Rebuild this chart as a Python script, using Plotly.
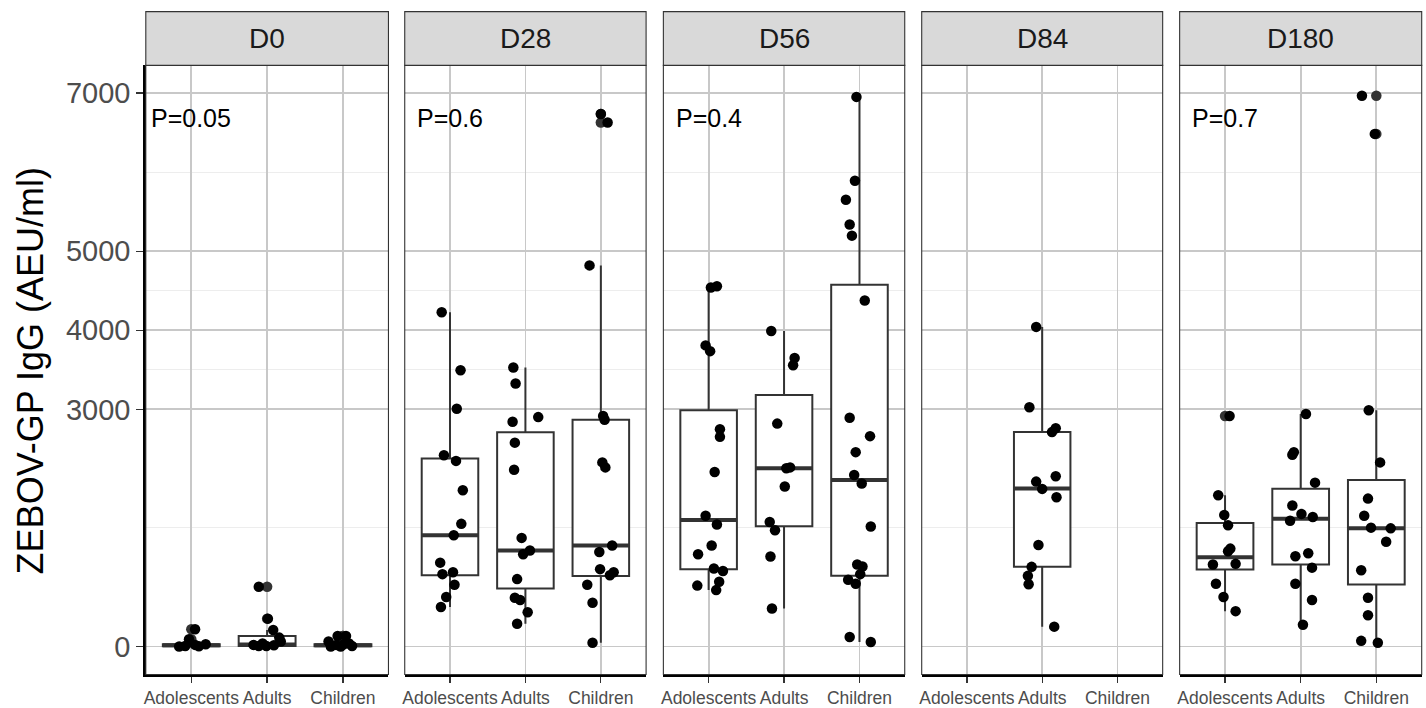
import plotly.graph_objects as go
import numpy as np

# ---------------- data ----------------
groups = ["Adolescents", "Adults", "Children"]
days = ["D0", "D28", "D56", "D84", "D180"]
p_labels = ["P=0.05", "P=0.6", "P=0.4", "", "P=0.7"]
y_tickvals = [0, 3000, 4000, 5000, 7000]
y_minorvals = [1500, 3500, 4500, 6000]

# point values (AEU/ml) and horizontal jitter
d0_adol = [218, 92, 0, 8, 21, 29, 4]
d0_adol_jit = [0.05, -0.03, -0.16, -0.08, 0.05, 0.19, 0.10]
d0_adul = [756, 353, 210, 113, 21, 8, 8, 17, 63, 38]
d0_adul_jit = [-0.11, 0.01, 0.08, 0.16, -0.18, -0.11, -0.01, 0.09, 0.18, -0.06]
d0_chil = [134, 134, 63, 21, 29, 8, 0, 38, 0]
d0_chil_jit = [-0.07, 0.04, -0.19, -0.09, 0.01, 0.12, -0.16, 0.08, -0.03]

d28_adol = [4228, 3495, 3008, 2420, 2348, 1977, 1552, 1408, 1061, 916, 940, 781, 627, 501]
d28_adol_jit = [-0.11, 0.14, 0.09, -0.08, 0.08, 0.17, 0.15, 0.05, -0.13, -0.10, 0.04, 0.06, -0.05, -0.12]
d28_adul = [3529, 3326, 2902, 2844, 2579, 2237, 1374, 1215, 1167, 853, 617, 588, 434, 289]
d28_adul_jit = [-0.16, -0.13, 0.17, -0.17, -0.14, -0.15, -0.05, 0.06, -0.03, -0.11, -0.14, -0.07, 0.03, -0.11]
d28_chil = [6735, 6629, 4821, 2917, 2868, 2329, 2266, 1278, 1196, 979, 940, 902, 781, 554, 48]
d28_chil_jit = [0.0, 0.09, -0.15, 0.03, 0.05, 0.02, 0.06, 0.15, -0.02, -0.01, 0.17, 0.12, -0.18, -0.11, -0.11]

d56_adol = [4541, 4556, 3809, 3736, 2748, 2652, 2208, 1654, 1543, 1278, 1167, 988, 955, 820, 771, 714]
d56_adol_jit = [0.03, 0.11, -0.04, 0.02, 0.15, 0.15, 0.08, -0.04, 0.11, 0.04, -0.14, 0.07, 0.19, 0.14, -0.15, 0.10]
d56_adul = [3992, 3650, 3558, 2820, 2256, 2266, 2025, 1576, 1470, 1138, 482]
d56_adul_jit = [-0.17, 0.14, 0.12, -0.09, 0.03, 0.08, 0.01, -0.19, -0.12, -0.18, -0.16]
d56_chil = [6952, 5891, 5650, 5337, 5197, 4377, 2893, 2661, 2459, 2170, 2063, 1519, 1037, 1012, 916, 844, 795, 121, 58]
d56_chil_jit = [-0.04, -0.06, -0.18, -0.13, -0.10, 0.07, -0.13, 0.14, -0.05, -0.07, 0.03, 0.15, -0.03, 0.04, 0.01, -0.15, -0.05, -0.13, 0.15]

d84_adul = [4043, 3027, 2762, 2712, 2154, 2086, 1994, 1889, 1285, 1008, 894, 789, 252]
d84_adul_jit = [-0.08, -0.17, 0.18, 0.13, 0.18, -0.08, 0.0, 0.19, -0.05, -0.14, -0.19, -0.18, 0.16]

d180_adol = [2917, 1914, 1663, 1533, 1239, 1205, 1037, 1046, 795, 627, 448]
d180_adol_jit = [0.06, -0.09, -0.01, 0.04, 0.07, 0.04, -0.16, 0.14, -0.12, -0.02, 0.14]
d180_adul = [2941, 2425, 2459, 2073, 1784, 1678, 1639, 1591, 1143, 1181, 998, 795, 588, 275]
d180_adul_jit = [0.07, -0.11, -0.09, 0.19, -0.11, 0.01, 0.16, -0.14, -0.07, 0.10, 0.15, -0.07, 0.15, 0.03]
d180_chil = [6966, 6484, 2989, 2329, 1871, 1654, 1504, 1495, 1326, 964, 617, 395, 72, 48]
d180_chil_jit = [-0.19, -0.02, -0.10, 0.05, -0.11, -0.16, -0.07, 0.19, 0.13, -0.20, -0.11, -0.11, -0.20, 0.02]

# box statistics (group order: Adolescents, Adults, Children)
q1_d0, med_d0, q3_d0 = [4, 8, 4], [15, 25, 17], [28, 134, 30]
q1_d28, med_d28, q3_d28 = [902, 733, 892], [1408, 1215, 1278], [2377, 2709, 2868]
q1_d56, med_d56, q3_d56 = [979, 1523, 897], [1601, 2256, 2107], [2989, 3182, 4575]
q1_d84, med_d84, q3_d84 = [None, 1008, None], [None, 2000, None], [None, 2712, None]
q1_d180, med_d180, q3_d180 = [974, 1037, 786], [1128, 1615, 1495], [1562, 1996, 2107]

points = {
    "D0": [(d0_adol, d0_adol_jit), (d0_adul, d0_adul_jit), (d0_chil, d0_chil_jit)],
    "D28": [(d28_adol, d28_adol_jit), (d28_adul, d28_adul_jit), (d28_chil, d28_chil_jit)],
    "D56": [(d56_adol, d56_adol_jit), (d56_adul, d56_adul_jit), (d56_chil, d56_chil_jit)],
    "D84": [None, (d84_adul, d84_adul_jit), None],
    "D180": [(d180_adol, d180_adol_jit), (d180_adul, d180_adul_jit), (d180_chil, d180_chil_jit)],
}
stats = {
    "D0": (q1_d0, med_d0, q3_d0),
    "D28": (q1_d28, med_d28, q3_d28),
    "D56": (q1_d56, med_d56, q3_d56),
    "D84": (q1_d84, med_d84, q3_d84),
    "D180": (q1_d180, med_d180, q3_d180),
}

# ---------------- layout geometry ----------------
W, H = 1426, 708
panel_px = [(144, 387), (403.3, 645), (662.3, 904), (921, 1162.3), (1179.3, 1421.7)]
y_dom = [1 - 677.3 / H, 1 - 65.7 / H]
strip_dom = [1 - 65.7 / H, 1 - 11.7 / H]
y_range = [-352.6, 7350]
FONT = "Liberation Sans, Arial, sans-serif"
BOXW = 0.75
MS = 10.5

fig = go.Figure()
layout_axes = {}
shapes = []
annotations = []

for i, day in enumerate(days):
    n = "" if i == 0 else str(i + 1)
    xa, ya = "x" + n, "y" + n
    q1s, meds, q3s = stats[day]
    for j, g in enumerate(groups):
        pt = points[day][j]
        if pt is None:
            continue
        vals, jit = pt
        v = np.array(vals, dtype=float)
        q1, med, q3 = q1s[j], meds[j], q3s[j]
        iqr = q3 - q1
        hi = v[v <= q3 + 1.5 * iqr].max()
        lo = v[v >= q1 - 1.5 * iqr].min()
        outl = v[(v > hi) | (v < lo)]
        fig.add_trace(go.Box(
            x=[j], q1=[q1], median=[med], q3=[q3], lowerfence=[lo], upperfence=[hi],
            width=BOXW, fillcolor="white", line=dict(color="#333333", width=2),
            whiskerwidth=0, boxpoints=False, xaxis=xa, yaxis=ya,
            showlegend=False, hoverinfo="skip"))
        fig.add_trace(go.Scatter(
            x=[j - BOXW / 2, j + BOXW / 2], y=[med, med], mode="lines",
            line=dict(color="#333333", width=4), xaxis=xa, yaxis=ya,
            showlegend=False, hoverinfo="skip"))
        if len(outl):
            fig.add_trace(go.Scatter(
                x=[j] * len(outl), y=outl, mode="markers",
                marker=dict(color="#333333", size=MS), xaxis=xa, yaxis=ya,
                showlegend=False, hoverinfo="skip"))
        fig.add_trace(go.Scatter(
            x=[j + d for d in jit], y=vals, mode="markers",
            marker=dict(color="black", size=MS), xaxis=xa, yaxis=ya,
            showlegend=False))

    x0, x1 = panel_px[i]
    layout_axes["xaxis" + n] = dict(
        domain=[x0 / W, x1 / W], range=[-0.6, 2.6], anchor=ya,
        tickmode="array", tickvals=[0, 1, 2], ticktext=groups,
        showgrid=True, gridcolor="#C8C8C8", gridwidth=1.8, zeroline=False,
        showline=True, linecolor="black", linewidth=2.5,
        ticks="outside", ticklen=6, tickwidth=1.3, tickcolor="#333333",
        tickfont=dict(family=FONT, size=17.5, color="#4D4D4D"), fixedrange=True)
    layout_axes["yaxis" + n] = dict(
        domain=y_dom, range=y_range, anchor=xa,
        tickmode="array", tickvals=y_tickvals, showticklabels=(i == 0),
        ticks="outside" if i == 0 else "", ticklen=7, tickwidth=1.3, tickcolor="#333333",
        tickfont=dict(family=FONT, size=29, color="#4D4D4D"),
        showgrid=True, gridcolor="#C8C8C8", gridwidth=1.8, zeroline=False,
        showline=(i == 0), linecolor="black", linewidth=2.5,
        minor=dict(tickmode="array", tickvals=y_minorvals, showgrid=True,
                   gridcolor="#EBEBEB", gridwidth=0.9, ticks=""),
        fixedrange=True)

    shapes.append(dict(type="rect", xref=xa + " domain", yref=ya + " domain",
                       x0=0, x1=1, y0=0, y1=1, line=dict(color="#333333", width=1.1),
                       fillcolor="rgba(0,0,0,0)", layer="above"))
    shapes.append(dict(type="rect", xref=xa + " domain", yref="paper",
                       x0=0, x1=1, y0=strip_dom[0], y1=strip_dom[1],
                       line=dict(color="#333333", width=1.1), fillcolor="#D9D9D9"))
    annotations.append(dict(text=day, xref=xa + " domain", yref="paper", x=0.5,
                            y=(strip_dom[0] + strip_dom[1]) / 2, showarrow=False,
                            xanchor="center", yanchor="middle",
                            font=dict(family=FONT, size=28, color="#1A1A1A")))
    if p_labels[i]:
        annotations.append(dict(text=p_labels[i], xref=xa, yref=ya, x=0, y=6680,
                                showarrow=False, xanchor="center", yanchor="middle",
                                font=dict(family=FONT, size=25, color="black")))

annotations.append(dict(text="ZEBOV-GP IgG (AEU/ml)", xref="paper", yref="paper",
                        x=28 / W, y=1 - 372 / H, textangle=-90, showarrow=False,
                        xanchor="center", yanchor="middle",
                        font=dict(family=FONT, size=36, color="black")))

fig.update_layout(
    width=W, height=H, margin=dict(l=0, r=0, t=0, b=0),
    paper_bgcolor="white", plot_bgcolor="white", showlegend=False,
    shapes=shapes, annotations=annotations, font=dict(family=FONT),
    **layout_axes)

fig.write_html("out.html",
               config={"displayModeBar": False, "staticPlot": True},
               post_script="document.body.style.margin='0px';"
                           "document.body.style.overflow='hidden';")
